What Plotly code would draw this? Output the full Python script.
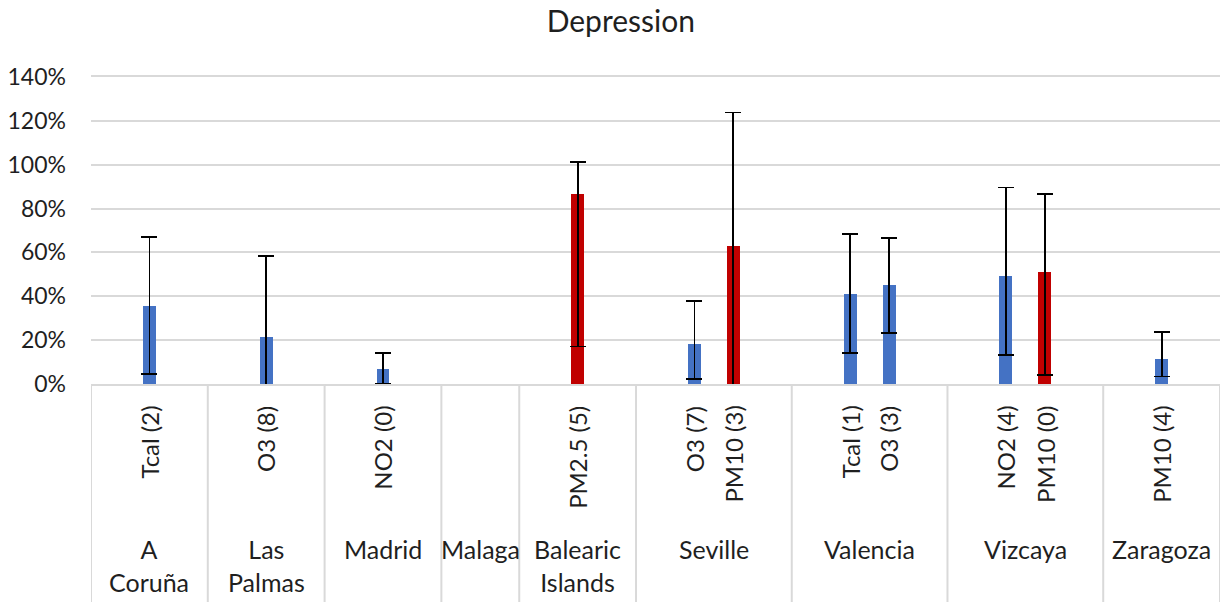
import plotly.graph_objects as go

# Regions (group labels) and the pollutant/model labels inside each region
regions = ["A<br>Coruña", "Las<br>Palmas", "Madrid", "Malaga", "Balearic<br>Islands",
           "Seville", "Valencia", "Vizcaya", "Zaragoza"]
region_items = [["Tcal (2)"], ["O3 (8)"], ["NO2 (0)"], [], ["PM2.5 (5)"],
                ["O3 (7)", "PM10 (3)"], ["Tcal (1)", "O3 (3)"],
                ["NO2 (4)", "PM10 (0)"], ["PM10 (4)"]]

# Effect size per item (fraction) with asymmetric error bounds
values = [0.355, 0.215, 0.070, 0.866, 0.182, 0.631, 0.412, 0.451, 0.491, 0.511, 0.116]
err_plus = [0.315, 0.368, 0.070, 0.148, 0.195, 0.607, 0.273, 0.215, 0.405, 0.357, 0.121]
err_minus = [0.310, 0.368, 0.070, 0.695, 0.159, 0.700, 0.271, 0.218, 0.357, 0.469, 0.082]
highlight = [False, False, False, True, False, True, False, False, False, True, False]

y_ticks = [0, 0.2, 0.4, 0.6, 0.8, 1.0, 1.2, 1.4]
y_tick_text = ["0%", "20%", "40%", "60%", "80%", "100%", "120%", "140%"]

BLUE = "#4472C4"
RED = "#C00000"
GRID = "#D9D9D9"
TEXT = "#1f1f1f"
FONT = "Lato"

# Each region gets one padding slot on either side of its items
positions, item_labels, edges = [], [], [0]
start = 0
for items in region_items:
    for i, lab in enumerate(items):
        positions.append(start + 1.5 + i)
        item_labels.append(lab)
    start += len(items) + 2
    edges.append(start)

fig = go.Figure()
fig.add_trace(go.Bar(
    x=positions,
    y=values,
    width=0.33,
    marker=dict(color=[RED if h else BLUE for h in highlight], line=dict(width=0)),
    error_y=dict(type="data", symmetric=False, array=err_plus, arrayminus=err_minus,
                 color="black", thickness=1.8, width=8),
    showlegend=False,
))

H_PLOT = 307
label_top = -(404 - 384.3) / H_PLOT
region_top = -(532 - 384.3) / H_PLOT
bottom = -(602 - 384.3) / H_PLOT - 0.01

shapes = []
for e in edges:
    shapes.append(dict(type="line", xref="x", yref="paper", x0=e, x1=e, y0=0, y1=bottom,
                       line=dict(color=GRID, width=2)))

annotations = []
for p, lab in zip(positions, item_labels):
    annotations.append(dict(x=p, y=label_top, xref="x", yref="paper", text=lab,
                            textangle=-90, showarrow=False, xanchor="center", yanchor="top",
                            font=dict(family=FONT, size=24, color=TEXT)))
for i, name in enumerate(regions):
    annotations.append(dict(x=(edges[i] + edges[i + 1]) / 2, y=region_top, xref="x", yref="paper",
                            text=name, showarrow=False, xanchor="center", yanchor="top",
                            align="center", font=dict(family=FONT, size=25, color=TEXT)))

fig.update_layout(
    width=1223, height=602,
    margin=dict(l=91, r=3, t=77, b=218),
    paper_bgcolor="white", plot_bgcolor="white",
    title=dict(text="Depression", x=620.8 / 1223, xref="container", xanchor="center",
               y=1 - 21 / 602, yref="container", yanchor="middle",
               font=dict(family=FONT, size=30, color=TEXT)),
    xaxis=dict(range=[0, edges[-1]], showticklabels=False, showgrid=False, zeroline=False,
               showline=True, mirror=True, linecolor=GRID, linewidth=2, fixedrange=True),
    yaxis=dict(range=[0, 1.4], tickvals=y_ticks, ticktext=y_tick_text, showgrid=True,
               gridcolor=GRID, gridwidth=2, zeroline=False, showline=False,
               ticks="", ticklabelstandoff=24, fixedrange=True,
               tickfont=dict(family=FONT, size=23, color=TEXT)),
    shapes=shapes,
    annotations=annotations,
    bargap=0,
)

fig.write_html("out.html")
